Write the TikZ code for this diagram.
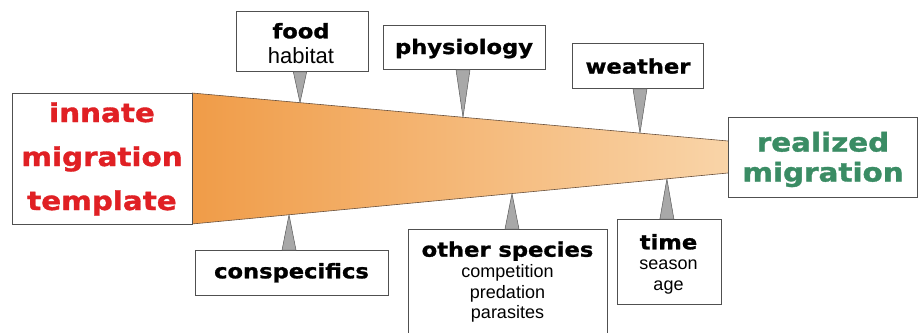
\documentclass[tikz,border=0pt]{standalone}
\usepackage{fontspec}
\usetikzlibrary{calc}
\newfontfamily\heavy[FakeStretch=1.13,FakeBold=1.3]{DejaVu Sans Bold}
\newfontfamily\lite{Liberation Sans}
\definecolor{tred}{RGB}{224,32,36}
\definecolor{tgreen}{RGB}{58,140,100}
\definecolor{boxgray}{RGB}{80,80,80}
\definecolor{ptrgray}{RGB}{168,168,168}
\definecolor{ptrline}{RGB}{90,90,90}
\definecolor{funL}{RGB}{240,156,72}
\definecolor{funR}{RGB}{249,212,168}
\definecolor{funedge}{RGB}{105,80,60}
\begin{document}
\begin{tikzpicture}[x=1pt,y=-1pt,
  box/.style={draw=boxgray, line width=0.8pt, fill=white, rectangle, inner sep=0pt, anchor=north west},
  ptr/.style={fill=ptrgray, draw=ptrline, line width=0.5pt, line join=round},
  big/.style={anchor=base, inner sep=0pt, font={\heavy\fontsize{26}{26}\selectfont}},
  lab/.style={anchor=base, inner sep=0pt, font={\heavy\fontsize{20}{20}\selectfont}},
  sub/.style={anchor=base, inner sep=0pt, font={\lite\fontsize{18}{18}\selectfont}},
  hab/.style={anchor=base, inner sep=0pt, font={\lite\fontsize{22}{22}\selectfont}}]
\clip (0,0) rectangle (918,332);
\fill[white] (0,0) rectangle (918,332);
% funnel
\coordinate (TL) at (192,93);
\coordinate (TR) at (728,141);
\coordinate (BR) at (728,173);
\coordinate (BL) at (192,224);
\shade[left color=funL, right color=funR] (TL) -- (TR) -- (BR) -- (BL) -- cycle;
\draw[funedge, line width=0.6pt] (TL) -- (TR);
\draw[funedge, line width=0.6pt] (BL) -- (BR);
% boxes
\node[box, minimum width=180pt, minimum height=131pt] (innate) at (12,93) {};
\node[box, minimum width=189pt, minimum height=80pt] (real) at (728,117) {};
\node[box, minimum width=132pt, minimum height=60pt] (food) at (236,11) {};
\node[box, minimum width=162pt, minimum height=44pt] (phys) at (383,25) {};
\node[box, minimum width=131pt, minimum height=45pt] (weath) at (572,43) {};
\node[box, minimum width=193pt, minimum height=45pt] (consp) at (195,250) {};
\node[box, minimum width=199pt, minimum height=120pt] (other) at (408,229) {};
\node[box, minimum width=104pt, minimum height=85pt] (time) at (617,219) {};
% pointer tips on the funnel edges
\coordinate (tFood) at ($(TL)!0.2015!(TR)$);
\coordinate (tPhys) at ($(TL)!0.5056!(TR)$);
\coordinate (tWeath) at ($(TL)!0.8358!(TR)$);
\coordinate (tConsp) at ($(BL)!0.181!(BR)$);
\coordinate (tOther) at ($(BL)!0.597!(BR)$);
\coordinate (tTime) at ($(BL)!0.886!(BR)$);
\draw[ptr] ($(tFood |- food.south)+(-6.7,0)$) -- (tFood) -- ($(tFood |- food.south)+(6.7,0)$) -- cycle;
\draw[ptr] ($(tPhys |- phys.south)+(-7,0)$) -- (tPhys) -- ($(tPhys |- phys.south)+(7,0)$) -- cycle;
\draw[ptr] ($(tWeath |- weath.south)+(-7,0)$) -- (tWeath) -- ($(tWeath |- weath.south)+(7,0)$) -- cycle;
\draw[ptr] ($(tConsp |- consp.north)+(-7,0)$) -- (tConsp) -- ($(tConsp |- consp.north)+(7,0)$) -- cycle;
\draw[ptr] ($(tOther |- other.north)+(-7,0)$) -- (tOther) -- ($(tOther |- other.north)+(7,0)$) -- cycle;
\draw[ptr] ($(tTime |- time.north)+(-7,0)$) -- (tTime) -- ($(tTime |- time.north)+(7,0)$) -- cycle;
% texts
\node[big, text=tred] (in1) at (102,122) {innate};
\node[big, text=tred] (in2) at (102,166) {migration};
\node[big, text=tred] (in3) at (102,210) {template};
\node[big, text=tgreen] (re1) at (823,151.5) {realized};
\node[big, text=tgreen] (re2) at (823,181.5) {migration};
\node[lab] (foodT) at (301,38.3) {food};
\node[hab] (habT) at (301,63.3) {habitat};
\node[lab] (physT) at (464,54) {physiology};
\node[lab] (weathT) at (638,73.5) {weather};
\node[lab] (conspT) at (291.5,278.3) {conspecifics};
\node[lab] (otherT) at (507.5,256.7) {other species};
\node[sub] (o1) at (507.5,277.3) {competition};
\node[sub] (o2) at (507.5,298.3) {predation};
\node[sub] (o3) at (507.5,318.3) {parasites};
\node[lab] (timeT) at (668.5,249.3) {time};
\node[sub] (t1) at (668.5,269.3) {season};
\node[sub] (t2) at (668.5,290) {age};
\end{tikzpicture}
\end{document}
